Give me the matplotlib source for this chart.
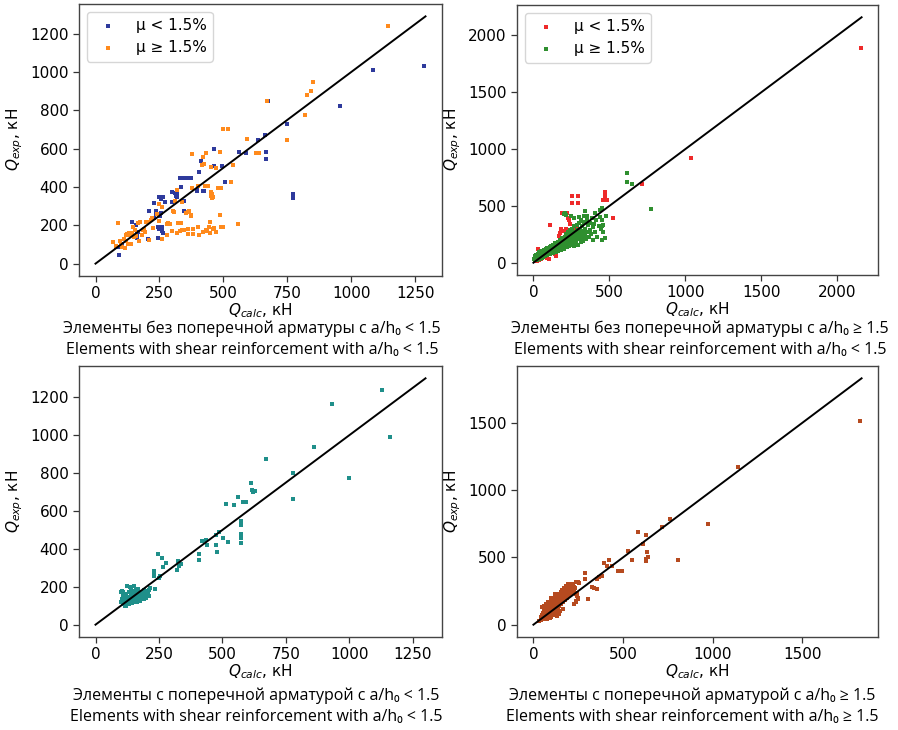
import matplotlib
matplotlib.use("Agg")
import matplotlib.pyplot as plt

# ---------------- data ----------------
# Panel A: no shear reinforcement, a/h0 < 1.5
a_low_x = [1285, 1084, 954, 750, 771, 771, 676, 663, 637, 665, 665, 561, 587, 493, 463, 465, 508,
           424, 406, 411, 396, 330, 341, 358, 372, 336, 347, 347, 317, 317, 298, 271, 249, 256,
           263, 230, 211, 247, 258, 258, 245, 141, 161, 164, 95, 91, 80, 245, 238, 255, 262, 250,
           300, 310, 230, 160, 130, 150, 105, 206, 404, 421, 395, 356, 313, 236, 252, 167]
a_low_y = [1029, 1010, 822, 731, 364, 340, 848, 670, 644, 585, 544, 580, 577, 511, 597, 507, 428,
           377, 476, 537, 384, 445, 449, 446, 446, 398, 329, 272, 367, 346, 376, 320, 346, 335,
           346, 317, 274, 246, 190, 168, 132, 216, 156, 133, 87, 43, 85, 190, 260, 265, 160, 180,
           322, 370, 240, 200, 160, 140, 100, 130, 480, 381, 381, 447, 352, 277, 251, 165]
a_high_x = [1144, 849, 841, 828, 819, 748, 669, 591, 627, 640, 497, 519, 539, 530, 487, 471, 450,
            432, 421, 425, 376, 441, 450, 457, 452, 492, 379, 367, 375, 487, 558, 311, 304, 306,
            249, 239, 280, 324, 336, 330, 340, 320, 345, 363, 363, 382, 406, 435, 445, 447, 458,
            465, 470, 449, 490, 497, 278, 258, 209, 187, 196, 175, 168, 147, 154, 125, 130, 141,
            120, 115, 127, 89, 69, 95, 110, 118, 135, 160, 170, 195, 225, 260, 320, 340, 415, 455,
            460, 402, 352, 290, 300, 380, 400, 420, 430, 250, 215, 180, 100, 140, 284, 361, 374,
            428, 480, 221, 205, 190, 150, 82, 105]
a_high_y = [1240, 949, 900, 880, 774, 644, 848, 651, 578, 578, 701, 701, 516, 424, 585, 497, 502,
            578, 554, 519, 571, 403, 355, 364, 372, 395, 393, 273, 255, 253, 208, 329, 277, 268,
            312, 260, 208, 211, 211, 170, 175, 162, 177, 182, 156, 156, 147, 170, 190, 160, 180,
            185, 165, 216, 193, 190, 147, 130, 125, 173, 216, 216, 210, 190, 173, 155, 160, 158,
            150, 83, 100, 211, 112, 116, 130, 120, 150, 145, 120, 165, 185, 295, 385, 320, 515, 340,
            350, 405, 265, 205, 170, 180, 190, 165, 175, 225, 230, 150, 95, 100, 213, 270, 249,
            407, 395, 239, 218, 180, 140, 90, 87]

# Panel B: no shear reinforcement, a/h0 >= 1.5
b_low_x = [2158, 1040, 718, 521, 470, 470, 472, 475, 460, 482, 252, 296, 252, 296, 350, 186, 219,
           230, 235, 110, 250, 265, 280, 300, 310, 320, 305, 285, 270, 255, 175, 170, 200, 215,
           230, 33, 45, 60, 75, 90, 100, 50, 70, 120, 140, 150, 130, 160, 190, 200, 220, 240, 260,
           280, 180, 240, 300, 22, 40, 110]
b_low_y = [1892, 926, 693, 393, 625, 600, 575, 553, 553, 555, 588, 588, 529, 529, 408, 437, 437,
           393, 377, 335, 289, 275, 265, 250, 230, 215, 205, 215, 225, 240, 262, 233, 280, 300,
           250, 117, 95, 80, 60, 40, 30, 30, 110, 90, 80, 60, 130, 120, 180, 150, 200, 180, 300,
           320, 300, 340, 300, 15, 20, 87]
b_high_x = [5, 8, 10, 12, 15, 18, 20, 22, 25, 28, 30, 32, 35, 38, 40, 42, 45, 48, 50, 52, 55, 58,
            60, 62, 65, 68, 70, 72, 75, 78, 80, 82, 85, 88, 90, 92, 95, 98, 100, 105, 108, 110,
            112, 115, 118, 120, 125, 128, 130, 132, 135, 140, 142, 145, 148, 150, 155, 158, 160,
            162, 165, 170, 172, 175, 178, 180, 185, 188, 190, 192, 195, 198, 200, 205, 208, 210,
            212, 215, 218, 220, 225, 228, 230, 232, 235, 238, 240, 242, 245, 248, 250, 255, 258,
            260, 262, 265, 268, 270, 272, 275, 278, 280, 285, 288, 290, 295, 298, 300, 302, 305,
            310, 312, 315, 318, 320, 325, 330, 335, 338, 340, 345, 350, 355, 360, 365, 370, 375,
            380, 385, 390, 395, 400, 405, 410, 420, 430, 440, 445, 450, 455, 460, 450, 470, 200,
            215, 250, 270, 300, 330, 310, 613, 613, 648, 775, 440, 449, 449, 480, 340, 355, 405,
            208]
b_high_y = [30, 45, 20, 60, 35, 50, 70, 25, 40, 55, 80, 30, 45, 65, 90, 35, 55, 75, 40, 100, 60,
            45, 85, 70, 50, 95, 110, 60, 80, 55, 100, 120, 70, 90, 65, 130, 85, 110, 75, 125, 95,
            140, 80, 110, 150, 95, 130, 105, 160, 85, 120, 145, 100, 170, 125, 90, 150, 115, 185,
            135, 100, 160, 125, 200, 140, 110, 175, 150, 215, 130, 185, 160, 120, 230, 190, 150,
            255, 175, 135, 205, 240, 165, 270, 195, 145, 220, 290, 180, 250, 160, 210, 300, 235,
            175, 270, 150, 225, 320, 195, 260, 170, 240, 330, 205, 285, 160, 250, 350, 215, 300,
            180, 265, 370, 230, 320, 195, 280, 360, 240, 300, 210, 380, 270, 330, 230, 350, 290,
            250, 390, 310, 200, 340, 270, 380, 230, 320, 400, 300, 378, 330, 270, 204, 215, 430,
            420, 410, 395, 400, 410, 380, 791, 713, 690, 472, 460, 480, 320, 410, 451, 415, 437,
            437]

# Panel C: with shear reinforcement, a/h0 < 1.5
c_x = [1128, 932, 1161, 998, 860, 671, 778, 778, 612, 615, 620, 630, 580, 560, 547, 516, 573, 573,
       572, 572, 575, 520, 503, 475, 488, 473, 478, 435, 440, 418, 407, 407, 322, 326, 330, 335,
       246, 263, 279, 265, 229, 229, 229, 256, 252, 233, 210, 102, 100, 105, 108, 110, 112, 115,
       118, 120, 122, 125, 128, 130, 132, 135, 138, 140, 142, 145, 148, 150, 152, 155, 158, 160,
       162, 165, 168, 170, 172, 175, 178, 180, 182, 185, 188, 190, 192, 195, 198, 200, 205, 208,
       212, 215, 110, 105, 125, 150, 160, 120, 130, 145, 140, 135, 190, 200, 165, 175, 592]
c_y = [1239, 1163, 991, 773, 940, 873, 799, 664, 746, 710, 700, 706, 645, 673, 629, 638, 548, 527,
       480, 457, 430, 436, 457, 475, 489, 418, 383, 448, 422, 439, 374, 343, 290, 334, 310, 320,
       372, 351, 325, 307, 281, 258, 270, 258, 246, 188, 153, 172, 120, 135, 110, 150, 125, 100,
       140, 160, 115, 130, 145, 120, 175, 135, 150, 125, 165, 140, 120, 155, 180, 135, 150, 165,
       125, 145, 190, 155, 135, 170, 150, 160, 140, 175, 155, 165, 185, 150, 170, 180, 160, 175,
       185, 195, 175, 180, 205, 205, 190, 100, 108, 112, 185, 200, 135, 140, 120, 125, 650]

# Panel D: with shear reinforcement, a/h0 >= 1.5
d_x = [1823, 1142, 974, 804, 761, 715, 582, 626, 613, 632, 641, 628, 630, 548, 530, 419, 391, 410,
       441, 471, 482, 493, 382, 355, 364, 286, 286, 253, 327, 355, 340, 305, 245, 248, 240,
       30, 40, 45, 50, 55, 60, 60, 65, 68, 70, 72, 75, 78, 80, 82, 85, 88, 90, 92, 95, 98, 100,
       102, 105, 108, 110, 112, 115, 118, 120, 122, 125, 128, 130, 132, 135, 138, 140, 142, 145,
       148, 150, 152, 155, 158, 160, 162, 165, 168, 170, 172, 175, 178, 180, 182, 185, 188, 190,
       192, 195, 198, 200, 205, 208, 210, 215, 218, 220, 225, 228, 232, 238, 245, 250, 120, 130,
       100, 110, 75, 90, 140, 60, 150, 165, 85, 95, 140, 225, 235, 240, 250, 50, 60, 70, 80, 100,
       120, 133]
d_y = [1512, 1173, 750, 484, 787, 725, 688, 664, 602, 541, 504, 472, 490, 484, 548, 484, 460, 435,
       435, 400, 400, 400, 361, 343, 357, 381, 337, 307, 282, 263, 270, 189, 235, 200, 165,
       30, 35, 60, 70, 90, 110, 130, 80, 125, 100, 140, 70, 115, 90, 150, 60, 130, 105, 160, 75,
       140, 120, 170, 90, 150, 130, 185, 100, 160, 140, 200, 110, 175, 150, 215, 120, 190, 160,
       230, 140, 205, 175, 245, 150, 220, 190, 260, 165, 235, 200, 275, 180, 250, 215, 290, 195,
       265, 230, 300, 210, 280, 245, 305, 225, 265, 290, 240, 300, 255, 280, 270, 230, 210, 190,
       70, 90, 60, 80, 40, 50, 80, 45, 100, 120, 100, 115, 95, 150, 175, 320, 320, 130, 140, 150,
       170, 200, 230, 61]

# End of the y = x reference line in each panel
diag_end = [1290, 2160, 1300, 1830]

legend_labels = ["μ < 1.5%", "μ ≥ 1.5%"]
captions = [
    ("Элементы без поперечной арматуры с a/h₀ < 1.5",
     "Elements with shear reinforcement with a/h₀ < 1.5"),
    ("Элементы без поперечной арматуры с a/h₀ ≥ 1.5",
     "Elements with shear reinforcement with a/h₀ < 1.5"),
    ("Элементы с поперечной арматурой с a/h₀ < 1.5",
     "Elements with shear reinforcement with a/h₀ < 1.5"),
    ("Элементы с поперечной арматурой с a/h₀ ≥ 1.5",
     "Elements with shear reinforcement with a/h₀ ≥ 1.5"),
]

# ---------------- figure ----------------
W, H = 898, 730
fig = plt.figure(figsize=(W / 100, H / 100), dpi=100)

def frac(l, t, r, b):
    return [l / W, 1 - b / H, (r - l) / W, (b - t) / H]

ax_boxes = [frac(79, 4, 442, 276), frac(517, 5, 878, 275),
            frac(79, 366, 442, 637), frac(517, 366, 878, 637)]
axes = [fig.add_axes(b) for b in ax_boxes]

BLUE, ORANGE = "#2e3a9c", "#ff8a1c"
RED, GREEN = "#ee2a2a", "#2f8f2f"
TEAL, SIENNA = "#1f8f8a", "#b64a1f"

MS = 12
series = [
    [(a_low_x, a_low_y, BLUE), (a_high_x, a_high_y, ORANGE)],
    [(b_low_x, b_low_y, RED), (b_high_x, b_high_y, GREEN)],
    [(c_x, c_y, TEAL)],
    [(d_x, d_y, SIENNA)],
]

for i, ax in enumerate(axes):
    for j, (xs, ys, col) in enumerate(series[i]):
        lab = legend_labels[j] if len(series[i]) > 1 else None
        ax.scatter(xs, ys, s=MS, marker="s", color=col, linewidths=0, label=lab, zorder=2)
    m = diag_end[i]
    ax.plot([0, m], [0, m], color="black", lw=1.4, zorder=3)
    ax.set_xlabel(r"$Q_{calc}$, кН", fontsize=11, labelpad=0)
    ax.set_ylabel(r"$Q_{exp}$, кН", fontsize=11, labelpad=4)
    ax.tick_params(labelsize=11, length=4, width=0.9, color="#333333")
    for sp in ax.spines.values():
        sp.set_color("#444444")
        sp.set_linewidth(1.0)
    if len(series[i]) > 1:
        ax.legend(loc="upper left", fontsize=11, scatterpoints=1, markerscale=1.0)

cap_font = ["Open Sans", "DejaVu Sans"]
cap_pos = [(252, 329, 350), (700, 329, 350), (256, 696, 717), (692, 696, 717)]
for (l1, l2), (cx, y1, y2) in zip(captions, cap_pos):
    fig.text(cx / W, 1 - y1 / H, l1, ha="center", va="center", fontsize=11.5, family=cap_font)
    fig.text(cx / W, 1 - y2 / H, l2, ha="center", va="center", fontsize=11.5, family=cap_font)

fig.savefig("out.png", dpi=100, facecolor="white")
